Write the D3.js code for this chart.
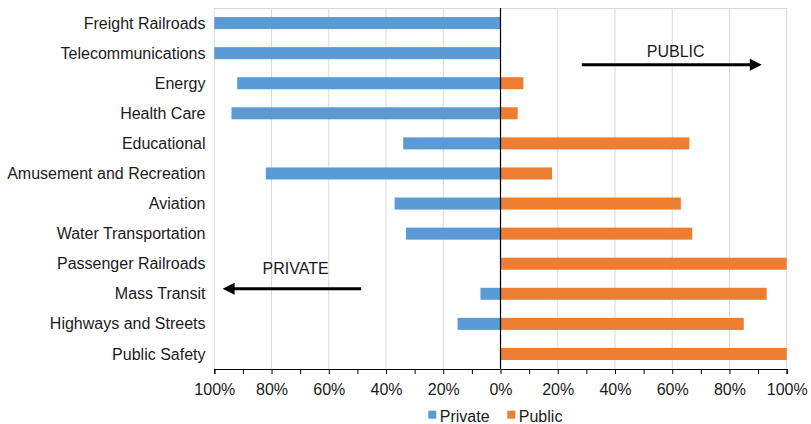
<!DOCTYPE html>
<html>
<head>
<meta charset="utf-8">
<script src="https://cdn.jsdelivr.net/npm/d3@7"></script>
<style>
  html, body { margin: 0; padding: 0; background: #fff; }
  svg { display: block; font-family: "Liberation Sans", Arial, Helvetica, sans-serif; }
</style>
</head>
<body>
<svg id="chart" width="811" height="424"></svg>
<script>
const categories = ["Freight Railroads", "Telecommunications", "Energy", "Health Care", "Educational",
  "Amusement and Recreation", "Aviation", "Water Transportation", "Passenger Railroads",
  "Mass Transit", "Highways and Streets", "Public Safety"];
const privateShare = [1.00, 1.00, 0.92, 0.94, 0.34, 0.82, 0.37, 0.33, 0.00, 0.07, 0.15, 0.00];
const publicShare  = [0.00, 0.00, 0.08, 0.06, 0.66, 0.18, 0.63, 0.67, 1.00, 0.93, 0.85, 1.00];
const majorTicks = [-1, -0.8, -0.6, -0.4, -0.2, 0, 0.2, 0.4, 0.6, 0.8, 1];
const minorTicks = [-1, -0.9, -0.8, -0.7, -0.6, -0.5, -0.4, -0.3, -0.2, -0.1, 0, 0.1, 0.2, 0.3, 0.4, 0.5, 0.6, 0.7, 0.8, 0.9, 1];
const seriesNames = ["Private", "Public"];

const colors = { Private: "#5B9BD5", Public: "#ED7D31" };
const textColor = "#1a1a1a";
const fontSize = "16px";

const svg = d3.select("#chart");
const plotLeft = 214.3, plotRight = 786.7, plotTop = 8, plotBottom = 369;

const x = d3.scaleLinear().domain([-1, 1]).range([plotLeft, plotRight]);
const y = d3.scaleBand().domain(categories).range([plotTop, plotBottom]).paddingInner(0.6).paddingOuter(0.3);

// gridlines
svg.append("g").selectAll("line").data(majorTicks.filter(d => d !== 0)).join("line")
  .attr("x1", d => x(d)).attr("x2", d => x(d))
  .attr("y1", plotTop).attr("y2", plotBottom)
  .attr("stroke", "#d9d9d9").attr("stroke-width", 1);
// top border
svg.append("line").attr("x1", plotLeft).attr("x2", plotRight).attr("y1", plotTop + 0.5).attr("y2", plotTop + 0.5)
  .attr("stroke", "#d9d9d9").attr("stroke-width", 1);

// bars
svg.append("g").selectAll("rect").data(categories).join("rect")
  .attr("x", (d, i) => x(-privateShare[i]))
  .attr("y", d => y(d))
  .attr("width", (d, i) => x(0) - x(-privateShare[i]))
  .attr("height", y.bandwidth())
  .attr("fill", colors.Private);
svg.append("g").selectAll("rect").data(categories).join("rect")
  .attr("x", x(0))
  .attr("y", d => y(d))
  .attr("width", (d, i) => x(publicShare[i]) - x(0))
  .attr("height", y.bandwidth())
  .attr("fill", colors.Public);

// zero line
svg.append("line").attr("x1", x(0)).attr("x2", x(0)).attr("y1", plotTop).attr("y2", plotBottom)
  .attr("stroke", "#000").attr("stroke-width", 1.2);

// x axis
const axis = d3.axisBottom(x).tickValues(minorTicks).tickSize(5)
  .tickFormat(d => majorTicks.some(m => Math.abs(m - d) < 1e-9) ? Math.round(Math.abs(d) * 100) + "%" : "");
const ax = svg.append("g").attr("transform", `translate(0,${plotBottom})`).call(axis);
ax.select(".domain").attr("stroke", "#000").attr("stroke-width", 1.2);
ax.selectAll(".tick line").attr("stroke", "#000");
ax.selectAll(".tick text").attr("fill", textColor).style("font-size", fontSize)
  .style("font-family", "'Liberation Sans', Arial, sans-serif").attr("y", 15).attr("dy", "0.71em");

// category labels
svg.append("g").selectAll("text").data(categories).join("text")
  .attr("x", 205.5)
  .attr("y", d => y(d) + y.bandwidth() / 2)
  .attr("dy", "0.35em")
  .attr("text-anchor", "end")
  .attr("fill", textColor)
  .style("font-size", fontSize)
  .text(d => d);

// annotations
function arrow(x1, x2, yy) {
  const dir = Math.sign(x2 - x1);
  const headLen = 12, headH = 6;
  svg.append("line").attr("x1", x1).attr("x2", x2 - dir * headLen + dir * 1).attr("y1", yy).attr("y2", yy)
    .attr("stroke", "#000").attr("stroke-width", 3);
  svg.append("path")
    .attr("d", `M${x2},${yy} L${x2 - dir * headLen},${yy - headH} L${x2 - dir * headLen},${yy + headH} Z`)
    .attr("fill", "#000");
}
svg.append("text").attr("x", x(0.612)).attr("y", 57.3).attr("text-anchor", "middle")
  .attr("fill", textColor).style("font-size", fontSize).text("PUBLIC");
arrow(x(0.284), x(0.913), 64.7);
svg.append("text").attr("x", x(-0.716)).attr("y", 274.3).attr("text-anchor", "middle")
  .attr("fill", textColor).style("font-size", fontSize).text("PRIVATE");
arrow(x(-0.487), x(-0.971), 288.7);

// legend
const legendX = [428.3, 507.3];
const lg = svg.append("g").selectAll("g").data(seriesNames).join("g")
  .attr("transform", (d, i) => `translate(${legendX[i]},410.7)`);
lg.append("rect").attr("width", 8).attr("height", 8).attr("fill", d => colors[d]);
lg.append("text").attr("x", 11.5).attr("y", 11).attr("fill", textColor).style("font-size", fontSize).text(d => d);
</script>
</body>
</html>
